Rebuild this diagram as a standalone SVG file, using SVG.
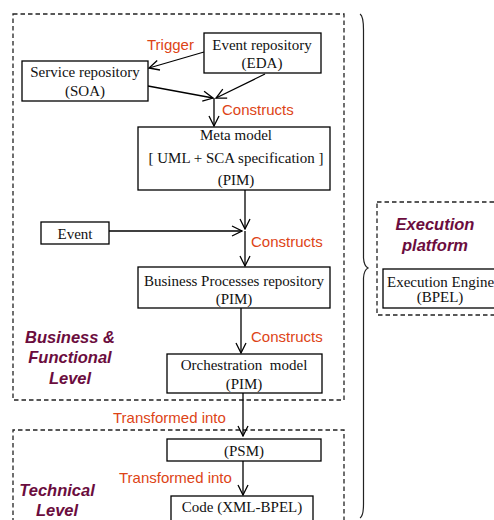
<svg xmlns="http://www.w3.org/2000/svg" width="494" height="520" viewBox="0 0 494 520">
<defs>
<marker id="ah" viewBox="0 0 12 12" refX="11" refY="6" markerWidth="12" markerHeight="12" markerUnits="userSpaceOnUse" orient="auto">
<path d="M1,1 L11,6 L1,11" fill="none" stroke="#000" stroke-width="1.3"/>
</marker>
<style>
.box{fill:#fff;stroke:#000;stroke-width:1.3}
.zone{fill:none;stroke:#222;stroke-width:1.3;stroke-dasharray:4.5 3}
.t{font-family:"Liberation Serif","Times New Roman",serif;font-size:15px;fill:#111;text-anchor:middle}
.lbl{font-family:"Liberation Sans",Arial,sans-serif;font-size:15px;fill:#dd4416}
.lvl{font-family:"Liberation Sans",Arial,sans-serif;font-size:16.5px;font-weight:bold;font-style:italic;fill:#6b0d3e;text-anchor:middle}
.c{fill:none;stroke:#000;stroke-width:1.3;marker-end:url(#ah)}
</style>
</defs>
<rect width="494" height="520" fill="#fff"/>
<g id="zones">
<rect class="zone" x="13" y="14" width="331" height="386"/>
<path class="zone" d="M13,530 V430 H344 V530"/>
<rect class="zone" x="377" y="202" width="130" height="113"/>
<path d="M360,14 Q363.5,16 363.5,30 V258 Q364,266 368,268 Q364,270 363.5,278 V504 Q363.5,516 360,518" fill="none" stroke="#222" stroke-width="1.2"/>
<text class="lvl" x="70" y="343">Business &amp;</text>
<text class="lvl" x="70" y="363">Functional</text>
<text class="lvl" x="70" y="384">Level</text>
<text class="lvl" x="57" y="496">Technical</text>
<text class="lvl" x="57" y="516">Level</text>
<text class="lvl" x="435" y="230">Execution</text>
<text class="lvl" x="435" y="251">platform</text>
</g>
<g id="connectors">
<line class="c" x1="204" y1="52" x2="149" y2="68"/>
<line class="c" x1="148" y1="86" x2="213" y2="98"/>
<line class="c" x1="265" y1="74" x2="216" y2="98"/>
<line class="c" x1="214" y1="98" x2="214" y2="126"/>
<line class="c" x1="245" y1="190" x2="245" y2="229"/>
<line class="c" x1="109" y1="231" x2="242" y2="231"/>
<line class="c" x1="245" y1="231" x2="245" y2="266"/>
<line class="c" x1="241" y1="308" x2="241" y2="353"/>
<line class="c" x1="243" y1="393" x2="243" y2="436"/>
<line class="c" x1="243" y1="461" x2="243" y2="495"/>
<text class="lbl" x="147" y="50">Trigger</text>
<text class="lbl" x="222" y="115">Constructs</text>
<text class="lbl" x="251" y="247">Constructs</text>
<text class="lbl" x="251" y="342">Constructs</text>
<text class="lbl" x="113" y="423">Transformed into</text>
<text class="lbl" x="119" y="483">Transformed into</text>
</g>
<g id="service-repo">
<rect class="box" x="22" y="61" width="126" height="40"/>
<text class="t" x="85" y="77">Service repository</text>
<text class="t" x="85" y="96">(SOA)</text>
</g>
<g id="event-repo">
<rect class="box" x="204" y="33" width="117" height="40"/>
<text class="t" x="262" y="50">Event repository</text>
<text class="t" x="262" y="68">(EDA)</text>
</g>
<g id="meta-model">
<rect class="box" x="138" y="127" width="192" height="63"/>
<text class="t" x="236" y="140">Meta model</text>
<text class="t" x="236" y="163">[ UML + SCA specification ]</text>
<text class="t" x="236" y="185">(PIM)</text>
</g>
<g id="event">
<rect class="box" x="41" y="222" width="68" height="22"/>
<text class="t" x="75" y="239">Event</text>
</g>
<g id="bp-repo">
<rect class="box" x="138" y="267" width="192" height="41"/>
<text class="t" x="234" y="286">Business Processes repository</text>
<text class="t" x="234" y="304">(PIM)</text>
</g>
<g id="orch-model">
<rect class="box" x="167" y="354" width="155" height="39"/>
<text class="t" x="244" y="370">Orchestration&#160; model</text>
<text class="t" x="244" y="389">(PIM)</text>
</g>
<g id="psm">
<rect class="box" x="167" y="439" width="154" height="22"/>
<text class="t" x="244" y="456">(PSM)</text>
</g>
<g id="code">
<rect class="box" x="171" y="496" width="142" height="30"/>
<text class="t" x="242" y="512">Code (XML-BPEL)</text>
</g>
<g id="exec-engine">
<rect class="box" x="383" y="269" width="120" height="39"/>
<text class="t" x="387" y="287" style="text-anchor:start">Execution Engine</text>
<text class="t" x="440" y="302">(BPEL)</text>
</g>
</svg>
